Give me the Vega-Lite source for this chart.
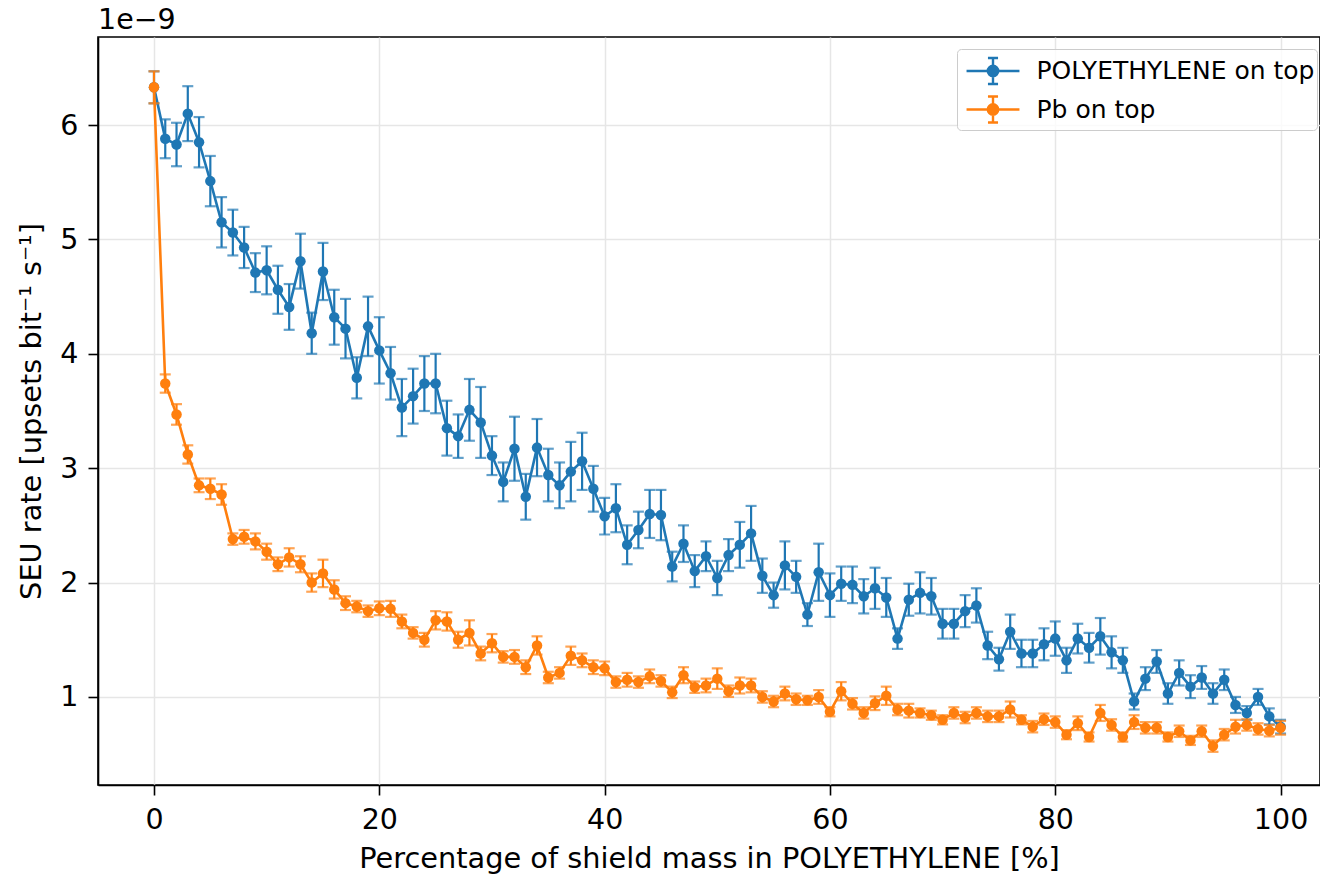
{
  "$schema": "https://vega.github.io/schema/vega-lite/v6.json",
  "width": 1222,
  "height": 748,
  "autosize": {"type": "none"},
  "padding": {"left": 98, "top": 37, "right": 0, "bottom": 91},
  "background": "white",
  "title": {"text": "1e−9", "anchor": "start", "frame": "group", "fontSize": 28.5, "font": "DejaVu Sans", "fontWeight": "normal", "color": "black", "offset": 3},
  "datasets": {
    "blue": [
      {"p":0,"r":6.33,"e":0.14},{"p":1,"r":5.88,"e":0.17},{"p":2,"r":5.83,"e":0.19},{"p":3,"r":6.10,"e":0.24},{"p":4,"r":5.85,"e":0.22},{"p":5,"r":5.51,"e":0.22},{"p":6,"r":5.15,"e":0.22},{"p":7,"r":5.06,"e":0.20},{"p":8,"r":4.93,"e":0.18},{"p":9,"r":4.71,"e":0.17},
      {"p":10,"r":4.73,"e":0.21},{"p":11,"r":4.56,"e":0.21},{"p":12,"r":4.41,"e":0.20},{"p":13,"r":4.81,"e":0.24},{"p":14,"r":4.18,"e":0.18},{"p":15,"r":4.72,"e":0.25},{"p":16,"r":4.32,"e":0.24},{"p":17,"r":4.22,"e":0.26},{"p":18,"r":3.79,"e":0.18},{"p":19,"r":4.24,"e":0.26},
      {"p":20,"r":4.03,"e":0.29},{"p":21,"r":3.83,"e":0.23},{"p":22,"r":3.53,"e":0.25},{"p":23,"r":3.63,"e":0.24},{"p":24,"r":3.74,"e":0.24},{"p":25,"r":3.74,"e":0.26},{"p":26,"r":3.35,"e":0.24},{"p":27,"r":3.28,"e":0.19},{"p":28,"r":3.51,"e":0.27},{"p":29,"r":3.40,"e":0.31},
      {"p":30,"r":3.11,"e":0.17},{"p":31,"r":2.88,"e":0.17},{"p":32,"r":3.17,"e":0.28},{"p":33,"r":2.75,"e":0.20},{"p":34,"r":3.18,"e":0.25},{"p":35,"r":2.94,"e":0.23},{"p":36,"r":2.85,"e":0.20},{"p":37,"r":2.97,"e":0.26},{"p":38,"r":3.06,"e":0.25},{"p":39,"r":2.82,"e":0.20},
      {"p":40,"r":2.58,"e":0.16},{"p":41,"r":2.65,"e":0.21},{"p":42,"r":2.33,"e":0.17},{"p":43,"r":2.46,"e":0.16},{"p":44,"r":2.60,"e":0.21},{"p":45,"r":2.59,"e":0.22},{"p":46,"r":2.14,"e":0.13},{"p":47,"r":2.34,"e":0.16},{"p":48,"r":2.10,"e":0.14},{"p":49,"r":2.23,"e":0.13},
      {"p":50,"r":2.04,"e":0.15},{"p":51,"r":2.24,"e":0.14},{"p":52,"r":2.33,"e":0.20},{"p":53,"r":2.43,"e":0.24},{"p":54,"r":2.06,"e":0.15},{"p":55,"r":1.89,"e":0.11},{"p":56,"r":2.15,"e":0.21},{"p":57,"r":2.05,"e":0.14},{"p":58,"r":1.72,"e":0.10},{"p":59,"r":2.09,"e":0.25},
      {"p":60,"r":1.89,"e":0.19},{"p":61,"r":1.99,"e":0.15},{"p":62,"r":1.98,"e":0.16},{"p":63,"r":1.88,"e":0.15},{"p":64,"r":1.95,"e":0.18},{"p":65,"r":1.87,"e":0.17},{"p":66,"r":1.51,"e":0.09},{"p":67,"r":1.85,"e":0.14},{"p":68,"r":1.91,"e":0.18},{"p":69,"r":1.88,"e":0.16},
      {"p":70,"r":1.64,"e":0.13},{"p":71,"r":1.64,"e":0.13},{"p":72,"r":1.75,"e":0.14},{"p":73,"r":1.80,"e":0.15},{"p":74,"r":1.45,"e":0.12},{"p":75,"r":1.33,"e":0.10},{"p":76,"r":1.57,"e":0.15},{"p":77,"r":1.38,"e":0.12},{"p":78,"r":1.38,"e":0.12},{"p":79,"r":1.46,"e":0.14},
      {"p":80,"r":1.51,"e":0.15},{"p":81,"r":1.32,"e":0.11},{"p":82,"r":1.51,"e":0.13},{"p":83,"r":1.43,"e":0.13},{"p":84,"r":1.53,"e":0.16},{"p":85,"r":1.39,"e":0.14},{"p":86,"r":1.32,"e":0.11},{"p":87,"r":0.96,"e":0.07},{"p":88,"r":1.16,"e":0.10},{"p":89,"r":1.31,"e":0.10},
      {"p":90,"r":1.03,"e":0.09},{"p":91,"r":1.21,"e":0.11},{"p":92,"r":1.09,"e":0.10},{"p":93,"r":1.17,"e":0.10},{"p":94,"r":1.03,"e":0.09},{"p":95,"r":1.15,"e":0.09},{"p":96,"r":0.93,"e":0.07},{"p":97,"r":0.86,"e":0.06},{"p":98,"r":1.00,"e":0.07},{"p":99,"r":0.83,"e":0.07},
      {"p":100,"r":0.74,"e":0.06}
    ],
    "orange": [
      {"p":0,"r":6.33,"e":0.14},{"p":1,"r":3.74,"e":0.08},{"p":2,"r":3.47,"e":0.09},{"p":3,"r":3.12,"e":0.08},{"p":4,"r":2.85,"e":0.06},{"p":5,"r":2.82,"e":0.09},{"p":6,"r":2.77,"e":0.09},{"p":7,"r":2.38,"e":0.05},{"p":8,"r":2.40,"e":0.06},{"p":9,"r":2.36,"e":0.07},
      {"p":10,"r":2.27,"e":0.07},{"p":11,"r":2.16,"e":0.06},{"p":12,"r":2.22,"e":0.08},{"p":13,"r":2.16,"e":0.07},{"p":14,"r":2.00,"e":0.08},{"p":15,"r":2.08,"e":0.12},{"p":16,"r":1.94,"e":0.08},{"p":17,"r":1.82,"e":0.06},{"p":18,"r":1.79,"e":0.05},{"p":19,"r":1.75,"e":0.05},
      {"p":20,"r":1.775,"e":0.06},{"p":21,"r":1.77,"e":0.07},{"p":22,"r":1.66,"e":0.06},{"p":23,"r":1.56,"e":0.05},{"p":24,"r":1.50,"e":0.06},{"p":25,"r":1.67,"e":0.08},{"p":26,"r":1.66,"e":0.08},{"p":27,"r":1.50,"e":0.07},{"p":28,"r":1.56,"e":0.11},{"p":29,"r":1.38,"e":0.06},
      {"p":30,"r":1.47,"e":0.08},{"p":31,"r":1.35,"e":0.05},{"p":32,"r":1.35,"e":0.06},{"p":33,"r":1.26,"e":0.06},{"p":34,"r":1.45,"e":0.08},{"p":35,"r":1.17,"e":0.05},{"p":36,"r":1.21,"e":0.05},{"p":37,"r":1.36,"e":0.08},{"p":38,"r":1.32,"e":0.06},{"p":39,"r":1.26,"e":0.06},
      {"p":40,"r":1.25,"e":0.06},{"p":41,"r":1.13,"e":0.05},{"p":42,"r":1.15,"e":0.06},{"p":43,"r":1.13,"e":0.05},{"p":44,"r":1.18,"e":0.06},{"p":45,"r":1.14,"e":0.05},{"p":46,"r":1.04,"e":0.05},{"p":47,"r":1.19,"e":0.07},{"p":48,"r":1.085,"e":0.05},{"p":49,"r":1.10,"e":0.06},
      {"p":50,"r":1.16,"e":0.09},{"p":51,"r":1.05,"e":0.05},{"p":52,"r":1.10,"e":0.07},{"p":53,"r":1.10,"e":0.06},{"p":54,"r":1.00,"e":0.05},{"p":55,"r":0.96,"e":0.05},{"p":56,"r":1.03,"e":0.06},{"p":57,"r":0.98,"e":0.05},{"p":58,"r":0.97,"e":0.04},{"p":59,"r":1.00,"e":0.06},
      {"p":60,"r":0.87,"e":0.04},{"p":61,"r":1.05,"e":0.08},{"p":62,"r":0.94,"e":0.05},{"p":63,"r":0.86,"e":0.05},{"p":64,"r":0.945,"e":0.06},{"p":65,"r":1.01,"e":0.08},{"p":66,"r":0.89,"e":0.05},{"p":67,"r":0.88,"e":0.06},{"p":68,"r":0.86,"e":0.04},{"p":69,"r":0.84,"e":0.04},
      {"p":70,"r":0.80,"e":0.04},{"p":71,"r":0.86,"e":0.05},{"p":72,"r":0.82,"e":0.05},{"p":73,"r":0.86,"e":0.05},{"p":74,"r":0.83,"e":0.05},{"p":75,"r":0.83,"e":0.05},{"p":76,"r":0.89,"e":0.07},{"p":77,"r":0.80,"e":0.04},{"p":78,"r":0.74,"e":0.05},{"p":79,"r":0.805,"e":0.05},
      {"p":80,"r":0.78,"e":0.05},{"p":81,"r":0.67,"e":0.04},{"p":82,"r":0.77,"e":0.06},{"p":83,"r":0.65,"e":0.04},{"p":84,"r":0.86,"e":0.07},{"p":85,"r":0.755,"e":0.05},{"p":86,"r":0.65,"e":0.04},{"p":87,"r":0.78,"e":0.06},{"p":88,"r":0.73,"e":0.05},{"p":89,"r":0.73,"e":0.05},
      {"p":90,"r":0.65,"e":0.04},{"p":91,"r":0.70,"e":0.05},{"p":92,"r":0.62,"e":0.04},{"p":93,"r":0.70,"e":0.05},{"p":94,"r":0.57,"e":0.05},{"p":95,"r":0.67,"e":0.05},{"p":96,"r":0.74,"e":0.06},{"p":97,"r":0.755,"e":0.05},{"p":98,"r":0.72,"e":0.05},{"p":99,"r":0.705,"e":0.05},
      {"p":100,"r":0.73,"e":0.06}
    ]
  },
  "encoding": {
    "x": {"field": "p", "type": "quantitative",
      "scale": {"domain": [-4.97, 103.5], "nice": false, "zero": false},
      "axis": {"values": [0, 20, 40, 60, 80, 100], "title": "Percentage of shield mass in POLYETHYLENE [%]", "labelPadding": 10, "titlePadding": 11}},
    "y": {"field": "r", "type": "quantitative",
      "scale": {"domain": [0.23, 6.77], "nice": false, "zero": false},
      "axis": {"values": [1, 2, 3, 4, 5, 6], "title": "SEU rate [upsets bit⁻¹ s⁻¹]", "labelPadding": 10, "titlePadding": 13}}
  },
  "layer": [
    {
      "data": {"name": "blue"},
      "mark": {"type": "errorbar", "ticks": {"size": 11}, "thickness": 2.2},
      "encoding": {
        "yError": {"field": "e"},
        "color": {"datum": "POLYETHYLENE on top", "type": "nominal",
          "scale": {"domain": ["POLYETHYLENE on top", "Pb on top"], "range": ["#1f77b4", "#ff7f0e"]}}
      }
    },
    {
      "data": {"name": "blue"},
      "mark": {"type": "line", "strokeWidth": 2.6, "point": {"filled": true, "size": 110, "opacity": 1}},
      "encoding": {
        "color": {"datum": "POLYETHYLENE on top", "type": "nominal",
          "scale": {"domain": ["POLYETHYLENE on top", "Pb on top"], "range": ["#1f77b4", "#ff7f0e"]}}
      }
    },
    {
      "data": {"name": "orange"},
      "mark": {"type": "errorbar", "ticks": {"size": 11}, "thickness": 2.2},
      "encoding": {
        "yError": {"field": "e"},
        "color": {"datum": "Pb on top", "type": "nominal",
          "scale": {"domain": ["POLYETHYLENE on top", "Pb on top"], "range": ["#1f77b4", "#ff7f0e"]}}
      }
    },
    {
      "data": {"name": "orange"},
      "mark": {"type": "line", "strokeWidth": 2.6, "point": {"filled": true, "size": 110, "opacity": 1}},
      "encoding": {
        "color": {"datum": "Pb on top", "type": "nominal",
          "scale": {"domain": ["POLYETHYLENE on top", "Pb on top"], "range": ["#1f77b4", "#ff7f0e"]},
          "legend": {"title": null, "orient": "none", "legendX": 859, "legendY": 12,
            "symbolType": "M-1.47,0H1.47M0,-0.72V0.72M-0.28,-0.72H0.28M-0.28,0.72H0.28M0.29,0A0.29,0.29,0,1,1,-0.29,0A0.29,0.29,0,1,1,0.29,0Z",
            "symbolSize": 1296, "symbolStrokeWidth": 2.4, "symbolOpacity": 1, "symbolOffset": 14, "labelOffset": 24, "rowPadding": 0.5, "padding": 2.5,
            "labelFontSize": 25, "labelFont": "DejaVu Sans", "labelColor": "black", "labelLimit": 600,
            "strokeColor": "#cccccc", "fillColor": "rgba(255,255,255,0.8)", "cornerRadius": 4,
            "encode": {"symbols": {"update": {"opacity": {"value": 1}, "fillOpacity": {"value": 1}, "strokeOpacity": {"value": 1}}}}}}
      }
    }
  ],
  "config": {
    "view": {"stroke": "black", "strokeWidth": 1.6},
    "font": "DejaVu Sans",
    "axis": {
      "labelFont": "DejaVu Sans", "titleFont": "DejaVu Sans",
      "labelFontSize": 28.5, "titleFontSize": 28.8, "titleFontWeight": "normal",
      "labelColor": "black", "titleColor": "black",
      "domainColor": "black", "domainWidth": 1.6,
      "tickColor": "black", "tickWidth": 1.6, "tickSize": 10,
      "grid": true, "gridColor": "#e6e6e6", "gridWidth": 1.5
    }
  }
}
